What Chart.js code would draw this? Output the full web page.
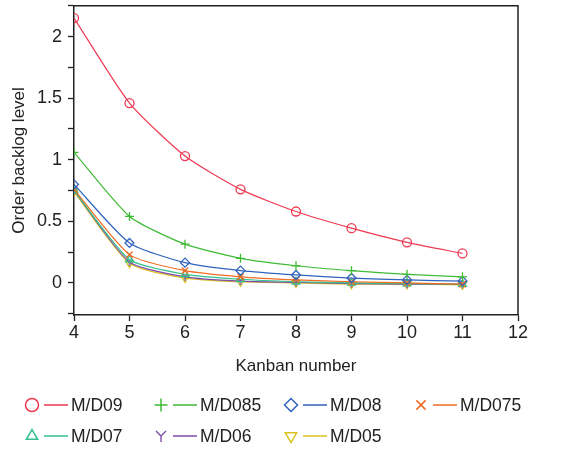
<!DOCTYPE html>
<html>
<head>
<meta charset="utf-8">
<script src="https://cdn.jsdelivr.net/npm/chart.js@4/dist/chart.umd.min.js"></script>
<style>
  html, body { margin: 0; padding: 0; background: #fff; }
  #wrap { width: 565px; height: 449px; }
</style>
</head>
<body>
<div id="wrap"><canvas id="chart" width="565" height="449"></canvas></div>
<script>
/* ---------- Data ---------- */
const kanban = [4, 5, 6, 7, 8, 9, 10, 11];
const seriesNames = ["M/D09", "M/D085", "M/D08", "M/D075", "M/D07", "M/D06", "M/D05"];
const md09  = [2.15, 1.46, 1.03, 0.76, 0.58, 0.445, 0.33, 0.24];
const md085 = [1.06, 0.54, 0.315, 0.2, 0.14, 0.1, 0.07, 0.05];
const md08  = [0.80, 0.325, 0.165, 0.1, 0.065, 0.04, 0.025, 0.015];
const md075 = [0.76, 0.23, 0.1, 0.05, 0.025, 0.01, 0.0, -0.01];
const md07  = [0.75, 0.19, 0.07, 0.03, 0.01, 0.0, -0.005, -0.01];
const md06  = [0.75, 0.17, 0.05, 0.015, 0.005, -0.005, -0.01, -0.01];
const md05  = [0.74, 0.16, 0.04, 0.01, 0.0, -0.01, -0.01, -0.015];
const yTicks = [-0.25, 0, 0.25, 0.5, 0.75, 1, 1.25, 1.5, 1.75, 2, 2.25];
const yLabels = ["0", "0.5", "1", "1.5", "2"];

const colors = ["#ee3a52", "#3fba35", "#3063bd", "#f26b22", "#33c08e", "#7d4cab", "#d9c21e"];

/* ---------- "Y" marker ---------- */
function yMarker(size, color) {
    const c = document.createElement("canvas");
    c.width = size; c.height = size;
    const g = c.getContext("2d");
    g.strokeStyle = color;
    g.lineWidth = 1.4;
    const m = size / 2;
    g.beginPath();
    g.moveTo(2, 2); g.lineTo(m, m);
    g.lineTo(size - 2, 2);
    g.moveTo(m, m); g.lineTo(m, size - 1);
    g.stroke();
    return c;
}

const styles = [
    { pointStyle: "circle", rotation: 0 },
    { pointStyle: "cross", rotation: 0 },
    { pointStyle: "rectRot", rotation: 0 },
    { pointStyle: "crossRot", rotation: 0 },
    { pointStyle: "triangle", rotation: 0 },
    { pointStyle: yMarker(10, colors[5]), rotation: 0, legendImg: yMarker(14, colors[5]) },
    { pointStyle: "triangle", rotation: 180 }
];

const allValues = [md09, md085, md08, md075, md07, md06, md05];

const datasets = allValues.map((vals, i) => ({
    label: seriesNames[i],
    data: vals,
    borderColor: colors[i],
    backgroundColor: "rgba(0,0,0,0)",
    borderWidth: 1.2,
    pointStyle: styles[i].pointStyle,
    rotation: styles[i].rotation,
    pointRadius: 4.5,
    pointBorderWidth: 1.3,
    pointBorderColor: colors[i],
    pointBackgroundColor: "rgba(0,0,0,0)",
    tension: 0.2,
    fill: false
}));

/* ---------- Frame + legend ---------- */
function drawSymbol(ctx, i, x, y) {
    const st = styles[i];
    if (st.legendImg) {
        ctx.drawImage(st.legendImg, x - 7, y - 7);
        return;
    }
    ctx.save();
    ctx.strokeStyle = colors[i];
    ctx.fillStyle = "rgba(0,0,0,0)";
    Chart.helpers.drawPoint(ctx, {
        pointStyle: st.pointStyle,
        rotation: st.rotation,
        radius: 6.5,
        borderWidth: 1.5
    }, x, y);
    ctx.restore();
}

const framePlugin = {
    id: "frame",
    afterDraw(chart) {
        const { ctx, chartArea: a } = chart;
        ctx.save();
        ctx.strokeStyle = "#222";
        ctx.lineWidth = 1.5;
        ctx.beginPath();
        ctx.moveTo(a.left, a.top);
        ctx.lineTo(a.right, a.top);
        ctx.lineTo(a.right, a.bottom);
        ctx.stroke();

        const rowsY = [405, 436];
        const colX = [32, 161, 291, 421];
        ctx.font = "17.5px 'Liberation Sans', Arial, sans-serif";
        ctx.textBaseline = "middle";
        seriesNames.forEach((name, i) => {
            const y = rowsY[Math.floor(i / 4)];
            const x = colX[i % 4];
            drawSymbol(ctx, i, x, y);
            ctx.strokeStyle = colors[i];
            ctx.lineWidth = 1.5;
            ctx.beginPath();
            ctx.moveTo(x + 12, y);
            ctx.lineTo(x + 36, y);
            ctx.stroke();
            ctx.fillStyle = "#222";
            ctx.fillText(name, x + 39, y + 1);
        });
        ctx.restore();
    }
};

const tickFont = { family: "'Liberation Sans', Arial, sans-serif", size: 18 };
const titleFont = { family: "'Liberation Sans', Arial, sans-serif", size: 17 };

new Chart(document.getElementById("chart"), {
    type: "line",
    data: { labels: kanban, datasets: datasets },
    plugins: [framePlugin],
    options: {
        responsive: false,
        animation: false,
        layout: { padding: { left: 0, top: 5, right: 47, bottom: 68 } },
        plugins: { legend: { display: false }, tooltip: { enabled: false } },
        scales: {
            x: {
                type: "linear",
                min: 4, max: 12,
                ticks: { stepSize: 1, color: "#222", font: tickFont, padding: 1, maxRotation: 0 },
                grid: { drawOnChartArea: false, drawTicks: true, tickLength: 6, tickColor: "#222", tickWidth: 1.3 },
                border: { display: true, color: "#222", width: 1.5 },
                title: { display: true, text: "Kanban number", color: "#222", font: titleFont },
                afterFit(s) { s.height = 66; s.paddingLeft = 0; s.paddingRight = 0; }
            },
            y: {
                min: -0.26, max: 2.25,
                afterBuildTicks(s) { s.ticks = yTicks.map(v => ({ value: v })); },
                ticks: {
                    color: "#222", font: tickFont, padding: 6,
                    callback: v => yLabels.includes(String(v)) ? String(v) : ""
                },
                grid: { drawOnChartArea: false, drawTicks: true, tickLength: 6, tickColor: "#222", tickWidth: 1.3 },
                border: { display: true, color: "#222", width: 1.5 },
                title: { display: true, text: "Order backlog level", color: "#222", font: titleFont, padding: { top: 9, bottom: 4 } },
                afterFit(s) { s.width = 74; s.paddingTop = 0; s.paddingBottom = 0; }
            }
        }
    }
});
</script>
</body>
</html>
